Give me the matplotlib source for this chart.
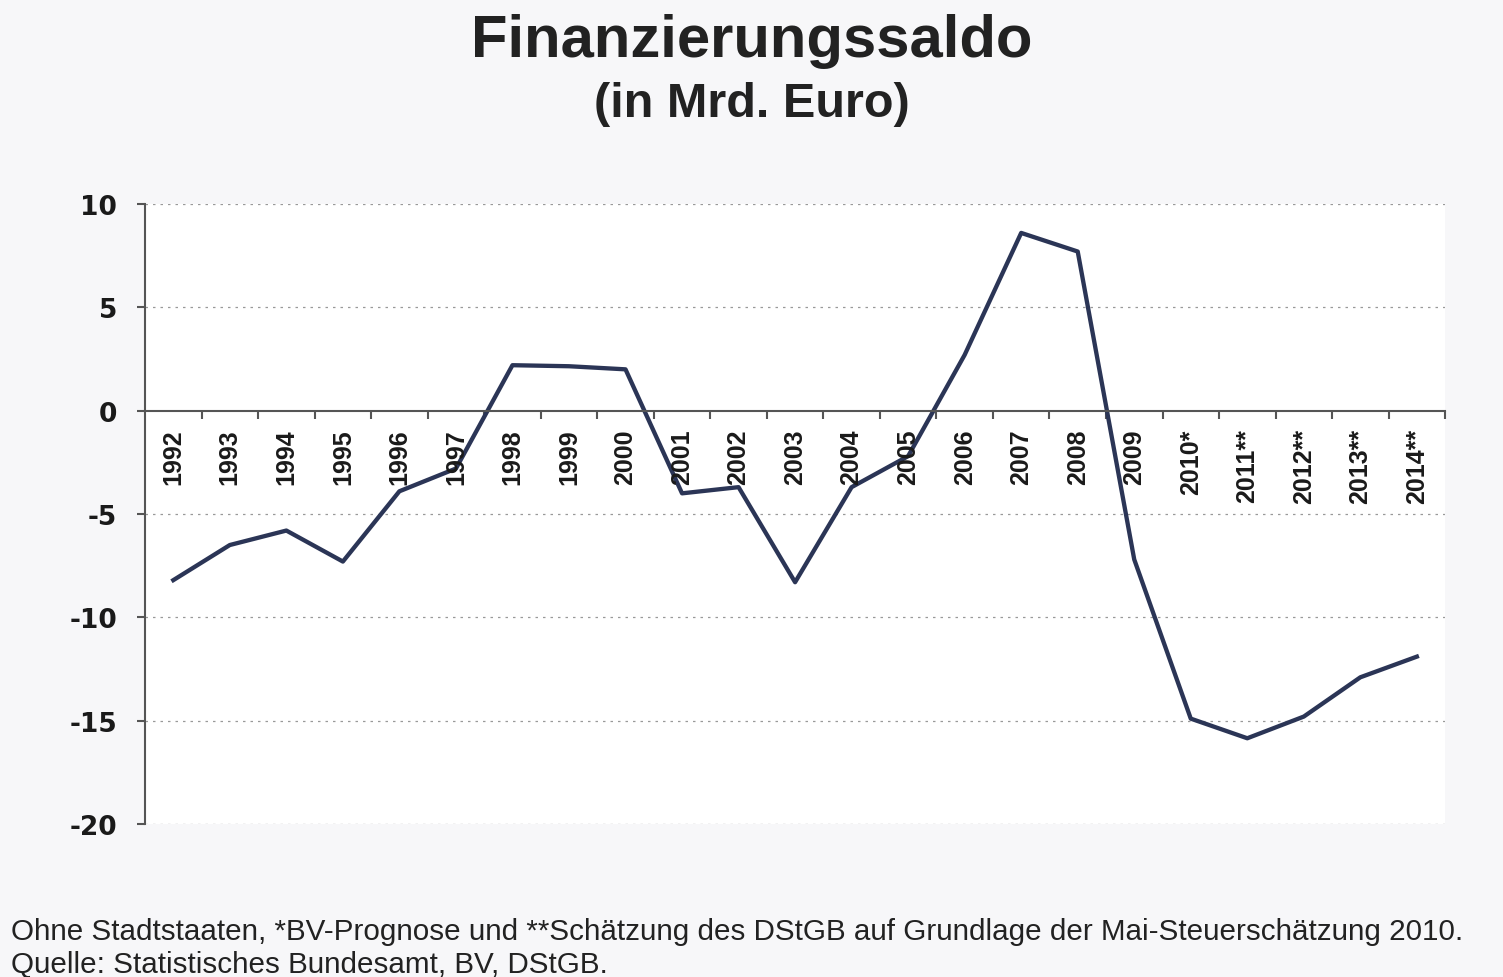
import matplotlib.pyplot as plt

plt.rcParams['font.family'] = ['Liberation Sans', 'DejaVu Sans']

# Daten
jahre = ['1992', '1993', '1994', '1995', '1996', '1997', '1998', '1999', '2000',
         '2001', '2002', '2003', '2004', '2005', '2006', '2007', '2008', '2009',
         '2010*', '2011**', '2012**', '2013**', '2014**']
saldo = [-8.2, -6.5, -5.8, -7.3, -3.9, -2.8, 2.2, 2.15, 2.0,
         -4.0, -3.7, -8.3, -3.7, -2.2, 2.7, 8.6, 7.7, -7.2,
         -14.9, -15.85, -14.8, -12.9, -11.9]
y_ticks = [10, 5, 0, -5, -10, -15, -20]

fig = plt.figure(figsize=(15.03, 9.78), dpi=100, facecolor='#f7f7f9')
ax = fig.add_axes([0.0965, 0.1564, 0.865, 0.634])
ax.set_facecolor('white')

x = list(range(len(jahre)))
ax.plot(x, saldo, color='#2b3556', linewidth=3.1, solid_joinstyle='round')

ax.set_xlim(-0.5, len(jahre) - 0.5)
ax.set_ylim(-20, 10)
ax.set_yticks(y_ticks)
ax.set_yticklabels([str(v) for v in y_ticks], fontsize=19, fontweight='heavy',
                   family='DejaVu Sans', color='#1a1a1a')

# Gitterlinien
for v in y_ticks:
    if v != 0:
        ax.axhline(v, color='#999999', linestyle=(0, (2, 4)), linewidth=0.9, zorder=0)

# Achsen
for s in ['top', 'right']:
    ax.spines[s].set_visible(False)
ax.spines['bottom'].set_position(('data', 0))
ax.spines['bottom'].set_color('#555555')
ax.spines['left'].set_color('#555555')
ax.spines['bottom'].set_linewidth(1.5)
ax.spines['left'].set_linewidth(1.5)
ax.tick_params(axis='y', length=6, width=1.5, color='#555555', pad=14)

# Kategorie-Grenzen als Ticks, Beschriftungen darunter
ax.set_xticks([i + 0.5 for i in x])
ax.set_xticklabels([])
ax.tick_params(axis='x', length=6, width=1.5, color='#555555')
for i, lab in enumerate(jahre):
    ax.text(i, -0.85, lab, rotation=90, ha='center', va='top',
            fontsize=18, fontweight='bold', color='#1a1a1a')

fig.text(0.5, 0.958, 'Finanzierungssaldo', ha='center', va='center',
         fontsize=43, fontweight='bold', color='#222222')
fig.text(0.5, 0.893, '(in Mrd. Euro)', ha='center', va='center',
         fontsize=35, fontweight='bold', color='#222222')

fig.text(0.007, 0.047, 'Ohne Stadtstaaten, *BV-Prognose und **Schätzung des DStGB auf Grundlage der Mai-Steuerschätzung 2010.',
         ha='left', va='center', fontsize=21.3, color='#222222')
fig.text(0.007, 0.013, 'Quelle: Statistisches Bundesamt, BV, DStGB.',
         ha='left', va='center', fontsize=21.3, color='#222222')

fig.savefig('out.png', dpi=100, facecolor=fig.get_facecolor())
